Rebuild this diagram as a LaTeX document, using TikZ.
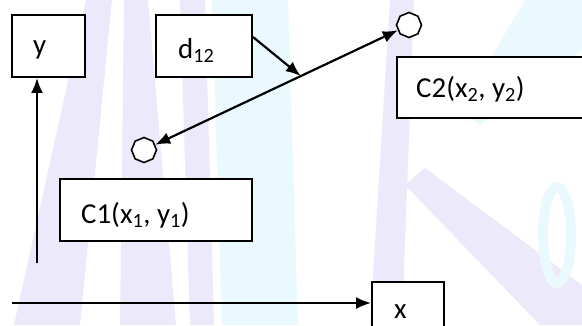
\documentclass[tikz,border=0pt]{standalone}
\usepackage{fontspec}
\setmainfont{Carlito}
\usetikzlibrary{arrows.meta,shapes.geometric}
\definecolor{lav}{RGB}{236,233,250}
\definecolor{cya}{RGB}{234,249,253}
\tikzset{
  box/.style={draw=black, line width=1.8bp, fill=white, rectangle, inner sep=0pt},
  lbl/.style={anchor=base west, inner sep=0pt, font=\fontsize{29}{34}\selectfont},
  oct/.style={draw=black, line width=1.6bp, fill=white, regular polygon, regular polygon sides=8, shape border rotate=22.5, minimum size=25bp, inner sep=0pt},
  arr/.style={line width=2.2bp, -{Latex[length=15bp,width=12bp]}},
}
\begin{document}
\begin{tikzpicture}[x=1bp,y=-1bp]
\useasboundingbox (0,0) rectangle (582,325);
\clip (0,0) rectangle (582,325);
\fill[white] (0,0) rectangle (582,325);
% faint watermark
\fill[lav] (86,0) -- (112,0) -- (80,325) -- (14,325) -- cycle;
\fill[lav] (124,0) -- (148,0) -- (176,325) -- (120,325) -- cycle;
\fill[lav] (180,0) -- (205,0) -- (214,325) -- (190,325) -- cycle;
\fill[cya] (212,0) -- (288,0) -- (298,325) -- (222,325) -- cycle;
\fill[lav] (390,0) -- (414,0) -- (402,325) -- (370,325) -- cycle;
\fill[lav] (405,185) -- (425,168) -- (582,285) -- (582,325) -- (540,325) -- cycle;
\fill[cya] (525,0) -- (582,0) -- (582,50) -- (480,125) -- (460,110) -- cycle;
\draw[cya, line width=10bp] (557,235) ellipse (14 and 48);
% boxes
\node[box, minimum width=73bp, minimum height=62bp] (ybox) at (48.5,46) {};
\node[lbl] (ytxt) at (33,54) {y};
\node[box, minimum width=96bp, minimum height=62bp] (dbox) at (204,46) {};
\node[lbl] (dtxt) at (178,58) {d\textsubscript{12}};
\node[box, minimum width=193bp, minimum height=61bp] (c2box) at (493.5,87.5) {};
\node[lbl] (c2txt) at (416,97) {C2(x\textsubscript{2}, y\textsubscript{2})};
\node[box, minimum width=192bp, minimum height=62bp] (c1box) at (156,210) {};
\node[lbl] (c1txt) at (81,223) {C1(x\textsubscript{1}, y\textsubscript{1})};
\node[box, minimum width=72bp, minimum height=60bp] (xbox) at (408,312) {};
\node[lbl] (xtxt) at (394,318) {x};
% octagons
\node[oct] (o2) at (409,25) {};
\node[oct] (o1) at (144,150) {};
% connectors
\draw[line width=2.2bp, {Latex[length=15bp,width=12bp]}-{Latex[length=15bp,width=12bp]}] (o1) -- (o2);
\path (o1) -- (o2) coordinate[pos=0.6] (mid);
\coordinate (dstart) at (253,37);
\draw[arr] (dstart) -- (mid);
\coordinate (ybot) at (37,263);
\draw[arr] (ybot) -- (ybot |- ybox.south);
\coordinate (xstart) at (12,303);
\draw[arr] (xstart) -- (xstart -| xbox.west);
\end{tikzpicture}
\end{document}
